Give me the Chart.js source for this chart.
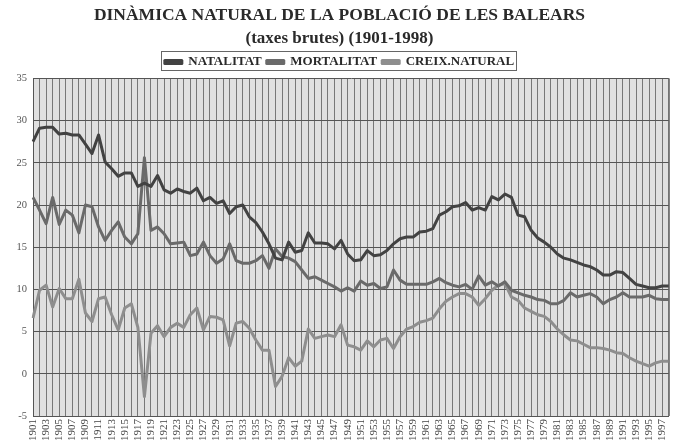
<!DOCTYPE html>
<html><head><meta charset="utf-8">
<script src="https://cdn.jsdelivr.net/npm/chart.js@4/dist/chart.umd.min.js"></script>
<style>html,body{margin:0;padding:0;background:#fff}#wrap{width:685px;height:447px;position:relative}</style>
</head><body><div id="wrap"><canvas id="c" width="685" height="447"></canvas></div>
<script>
const years = ['1901','1902','1903','1904','1905','1906','1907','1908','1909','1910',
'1911','1912','1913','1914','1915','1916','1917','1918','1919','1920',
'1921','1922','1923','1924','1925','1926','1927','1928','1929','1930',
'1931','1932','1933','1934','1935','1936','1937','1938','1939','1940',
'1941','1942','1943','1944','1945','1946','1947','1948','1949','1950',
'1951','1952','1953','1954','1955','1956','1957','1958','1959','1960',
'1961','1962','1963','1964','1965','1966','1967','1968','1969','1970',
'1971','1972','1973','1974','1975','1976','1977','1978','1979','1980',
'1981','1982','1983','1984','1985','1986','1987','1988','1989','1990',
'1991','1992','1993','1994','1995','1996','1997','1998'];

const natalitat = [27.5,29.1,29.2,29.2,28.4,28.5,28.3,28.3,27.2,26.1,
28.3,25.1,24.3,23.4,23.8,23.8,22.2,22.6,22.2,23.5,
21.8,21.4,21.9,21.6,21.4,22.0,20.5,20.9,20.2,20.5,
19.0,19.8,20.0,18.6,17.9,16.8,15.4,13.7,13.5,15.6,
14.4,14.6,16.7,15.5,15.5,15.4,14.8,15.8,14.2,13.4,
13.5,14.6,14.0,14.1,14.6,15.4,16.0,16.2,16.2,16.8,
16.9,17.2,18.8,19.2,19.8,19.9,20.3,19.4,19.7,19.4,
21.0,20.6,21.3,20.9,18.8,18.6,17.0,16.1,15.6,15.0,
14.2,13.7,13.5,13.2,12.9,12.7,12.3,11.7,11.7,12.1,
12.0,11.3,10.6,10.4,10.2,10.2,10.4,10.4];

const mortalitat = [20.9,19.4,17.8,20.9,17.7,19.4,18.8,16.7,20.0,19.8,
17.4,15.8,17.0,18.0,16.2,15.4,16.6,25.6,17.0,17.4,
16.6,15.4,15.5,15.6,14.0,14.2,15.6,14.0,13.1,13.6,
15.4,13.4,13.1,13.1,13.4,14.0,12.5,14.8,13.9,13.7,
13.3,12.3,11.3,11.5,11.1,10.7,10.3,9.8,10.2,9.8,
11.0,10.5,10.7,10.1,10.3,12.3,11.1,10.6,10.6,10.6,
10.6,10.9,11.3,10.8,10.5,10.3,10.6,10.0,11.6,10.5,
10.9,10.4,10.9,9.9,9.6,9.3,9.1,8.8,8.7,8.3,
8.3,8.7,9.6,9.1,9.3,9.5,9.1,8.3,8.8,9.1,
9.6,9.1,9.1,9.1,9.3,8.9,8.8,8.8];

const creixNatural = [6.6,9.9,10.5,7.9,10.1,8.9,8.9,11.2,7.2,6.2,
8.9,9.1,7.0,5.2,7.8,8.3,5.5,-2.7,4.8,5.7,
4.4,5.5,6.0,5.5,7.0,7.8,5.2,6.8,6.7,6.4,
3.3,6.0,6.2,5.4,4.0,2.8,2.8,-1.5,-0.3,1.9,
0.9,1.5,5.3,4.2,4.4,4.6,4.4,5.8,3.4,3.2,
2.8,3.9,3.2,4.0,4.2,3.0,4.4,5.3,5.6,6.1,
6.3,6.6,7.7,8.6,9.1,9.5,9.5,9.1,8.1,8.9,
9.9,10.5,10.7,9.1,8.7,7.8,7.4,7.0,6.8,6.2,
5.3,4.6,4.0,3.9,3.5,3.1,3.1,3.0,2.8,2.5,
2.4,1.9,1.5,1.2,0.9,1.3,1.5,1.5];

const yTicks = [-5,0,5,10,15,20,25,30,35];

const serif = "'Liberation Serif','Times New Roman',serif";

const bgPlugin = {
  id: 'bg',
  beforeDraw(chart) {
    const {ctx, chartArea: a} = chart;
    ctx.save();
    ctx.fillStyle = '#e0e0e0';
    ctx.fillRect(a.left, a.top, a.right - a.left, a.bottom - a.top);
    ctx.restore();
  },
  afterDraw(chart) {
    const lg = chart.legend;
    if (!lg || !lg.legendHitBoxes || !lg.legendHitBoxes.length) return;
    let l = Infinity, r = -Infinity, t = Infinity, b = -Infinity;
    lg.legendHitBoxes.forEach(h => {
      l = Math.min(l, h.left); r = Math.max(r, h.left + h.width);
      t = Math.min(t, h.top); b = Math.max(b, h.top + h.height);
    });
    const ctx = chart.ctx;
    ctx.save();
    ctx.strokeStyle = '#666';
    ctx.lineWidth = 1;
    ctx.strokeRect(Math.round(l) - 3.5, Math.round(t) - 3.5, Math.round(r - l) + 6, Math.round(b - t) + 6);
    const a = chart.chartArea;
    ctx.strokeStyle = '#666';
    ctx.beginPath();
    ctx.moveTo(a.right + 0.5, a.top); ctx.lineTo(a.right + 0.5, a.bottom);
    ctx.stroke();
    ctx.restore();
  }
};

new Chart(document.getElementById('c'), {
  type: 'line',
  data: {
    labels: years,
    datasets: [
      {label: 'NATALITAT', data: natalitat, borderColor: '#424242', backgroundColor: '#424242', borderWidth: 3},
      {label: 'MORTALITAT', data: mortalitat, borderColor: '#6a6a6a', backgroundColor: '#6a6a6a', borderWidth: 3},
      {label: 'CREIX.NATURAL', data: creixNatural, borderColor: '#8e8e8e', backgroundColor: '#8e8e8e', borderWidth: 3}
    ]
  },
  options: {
    responsive: false,
    devicePixelRatio: 1,
    animation: false,
    layout: {padding: {left: 0, right: 6, top: 0, bottom: 0}},
    elements: {point: {radius: 0}, line: {tension: 0, borderJoinStyle: 'round'}},
    plugins: {
      title: {display: true, text: 'DINÀMICA NATURAL DE LA POBLACIÓ DE LES BALEARS', color: '#2a2a2a',
        font: {family: serif, size: 17.5, weight: 'bold'}, padding: {top: 5, bottom: 2}},
      subtitle: {display: true, text: '(taxes brutes) (1901-1998)', color: '#2a2a2a',
        font: {family: serif, size: 17, weight: 'bold'}, padding: {top: 0, bottom: 2}},
      legend: {display: true, position: 'top',
        labels: {boxWidth: 17, boxHeight: 3, padding: 5, color: '#2a2a2a',
          font: {family: serif, size: 13, weight: 'bold'}}},
      tooltip: {enabled: false}
    },
    scales: {
      x: {
        grid: {color: '#777', lineWidth: 1, drawTicks: false},
        border: {color: '#555'},
        ticks: {autoSkip: false, minRotation: 90, maxRotation: 90, padding: 3, color: '#444',
          font: {family: serif, size: 11},
          callback: function(v, i) { return i % 2 === 0 ? years[i] : ''; }},
        afterFit(s) { s.height = 31; }
      },
      y: {
        min: -5, max: 35,
        afterBuildTicks(s) { s.ticks = yTicks.map(v => ({value: v})); },
        grid: {color: '#555', lineWidth: 1, drawTicks: false},
        border: {color: '#555'},
        ticks: {color: '#555', padding: 6, font: {family: serif, size: 10.5}},
        afterFit(s) { s.width = 33; }
      }
    }
  },
  plugins: [bgPlugin]
});
</script>
</body></html>
